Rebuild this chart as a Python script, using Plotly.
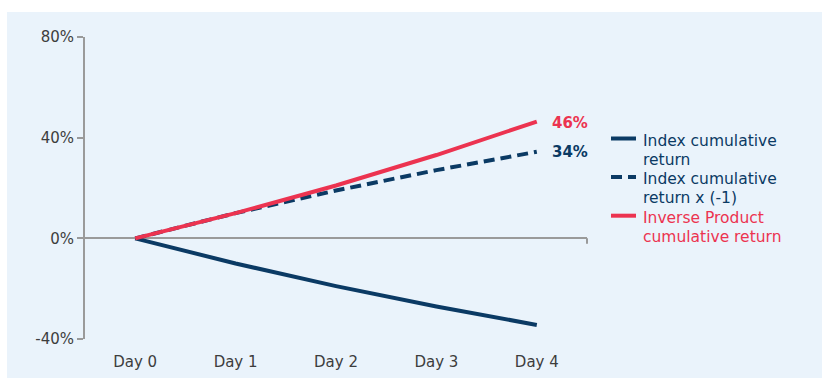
import plotly.graph_objects as go

days = ["Day 0", "Day 1", "Day 2", "Day 3", "Day 4"]
index_ret = [0, -10, -19, -27.1, -34.4]
index_neg = [0, 10, 19, 27.1, 34.4]
inverse_ret = [0, 10, 21, 33.1, 46.4]
y_ticks = [-40, 0, 40, 80]
y_labels = ["-40%", "0%", "40%", "80%"]
series_names = [["Index cumulative", "return"],
                 ["Index cumulative", "return x (-1)"],
                 ["Inverse Product", "cumulative return"]]

NAVY = "#0b3a64"
RED = "#ec3350"
GRAY = "#9a9a9a"
TXT = "#3d3d3d"
FONT = "DejaVu Sans"
DASH = "11px,6px"

# plot area geometry (pixels) for paper-coordinate conversions
L, R, T, B, W, H = 85, 587, 37, 339, 822, 378
def px(x):
    return (x - L) / (R - L)
def py(y):
    return (B - y) / (B - T)

fig = go.Figure()
styles = [dict(color=NAVY, width=4),
          dict(color=NAVY, width=4, dash=DASH),
          dict(color=RED, width=4)]
for vals, st, nm in zip([index_ret, index_neg, inverse_ret], styles, series_names):
    fig.add_trace(go.Scatter(x=days, y=vals, mode="lines", name=" ".join(nm),
                             line=st, showlegend=False))

# background panel
fig.add_shape(type="rect", xref="paper", yref="paper", x0=px(7), x1=px(W + 5), y0=py(H + 5), y1=py(12),
              fillcolor="#eaf3fb", line=dict(width=0), layer="below")
# right end tick of zero line
fig.add_shape(type="line", xref="paper", yref="y", x0=1.0, x1=1.0, y0=0, y1=-2.2,
              line=dict(color=GRAY, width=2))

fig.add_annotation(x=days[-1], y=inverse_ret[-1], text="<b>46%</b>", showarrow=False,
                   xanchor="left", xshift=13, yshift=-1.5, font=dict(color=RED, size=15, family=FONT))
fig.add_annotation(x=days[-1], y=index_neg[-1], text="<b>34%</b>", showarrow=False,
                   xanchor="left", xshift=13, yshift=-0.5, font=dict(color=NAVY, size=15, family=FONT))

# legend (drawn manually to match compact line spacing)
leg_colors = [NAVY, NAVY, RED]
leg_dash = ["solid", DASH, "solid"]
pitch = 19.3
first = 140.5
for i in range(3):
    y1 = first + pitch * 2 * i
    fig.add_shape(type="line", xref="paper", yref="paper", x0=px(611), x1=px(636),
                  y0=py(y1 - 2), y1=py(y1 - 2),
                  line=dict(color=leg_colors[i], width=4, dash=leg_dash[i]))
    for k, line_txt in enumerate(series_names[i]):
        fig.add_annotation(xref="paper", yref="paper", x=px(641), y=py(y1 + pitch * k),
                           text=line_txt, showarrow=False, xanchor="left", yanchor="middle",
                           font=dict(color=leg_colors[i], size=15.5, family=FONT))

fig.update_layout(
    width=W, height=H,
    margin=dict(l=L, r=W - R, t=T, b=H - B, autoexpand=False),
    paper_bgcolor="white", plot_bgcolor="rgba(0,0,0,0)",
    font=dict(family=FONT, color=TXT, size=15),
    showlegend=False,
    xaxis=dict(type="category", range=[-0.5, 4.5], showgrid=False, showline=False, automargin=False,
               ticks="", tickfont=dict(size=15, color=TXT), ticklabelstandoff=12),
    yaxis=dict(range=[-40, 80], tickvals=y_ticks, ticktext=y_labels, showgrid=False, automargin=False,
               showline=True, linecolor=GRAY, linewidth=2, ticks="outside", ticklen=6,
               tickcolor=GRAY, tickwidth=2, zeroline=True, zerolinecolor=GRAY, zerolinewidth=2,
               tickfont=dict(size=15, color=TXT)),
)

fig.write_html("out.html")
